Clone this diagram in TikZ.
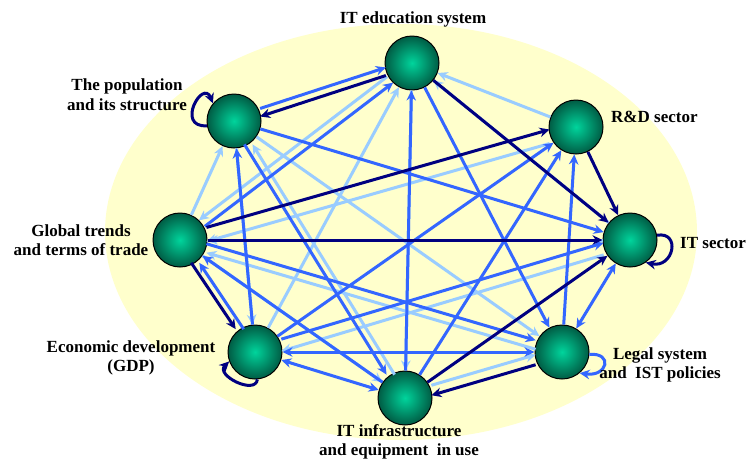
\documentclass[tikz,border=0pt]{standalone}
\usepackage{fontspec}
\setmainfont{Liberation Serif}
\usetikzlibrary{arrows.meta}

\definecolor{navyarc}{HTML}{000080}
\definecolor{midarc}{HTML}{3366FF}
\definecolor{lightarc}{HTML}{99CCFF}
\definecolor{fieldbg}{HTML}{FFFFCC}
\definecolor{ballin}{HTML}{00D49C}
\definecolor{ballout}{HTML}{005C44}

\tikzset{
  factor/.style={circle, draw=black, line width=1pt, minimum size=54pt, inner sep=0pt,
    inner color=ballin, outer color=ballout},
  lbl/.style={font=\fontsize{17}{19.5}\selectfont\bfseries, align=center, inner sep=0pt},
  link/.style={line width=3pt, ->},
  nv/.style={link, draw=navyarc},
  md/.style={link, draw=midarc},
  lb/.style={link, draw=lightarc},
  sh/.style={transform canvas={shift={#1}}},
}

\begin{document}
\begin{tikzpicture}[x=1pt,y=-1pt,>={Stealth[length=10pt,width=9.5pt]}]
  \useasboundingbox (0,0) rectangle (746,461);
  \fill[fieldbg] (401,232) ellipse (296 and 208);

  % the eight factors
  \node[factor] (edu) at (412,63) {};
  \node[factor] (rnd) at (576,127) {};
  \node[factor] (itsec) at (630,240) {};
  \node[factor] (legal) at (562,352) {};
  \node[factor] (infra) at (405,398) {};
  \node[factor] (econ) at (255,352) {};
  \node[factor] (glob) at (180,240) {};
  \node[factor] (popu) at (234,121) {};

  % weak links
  \draw[lb] (rnd) -- (edu);
  \draw[lb] (itsec) -- (edu);
  \draw[lb,sh={(-3,-3)}] (edu) -- (glob);
  \draw[lb] (glob) -- (popu);
  \draw[lb,sh={(4,0)}] (infra) -- (popu);
  \draw[lb] (popu) -- (econ);
  \draw[lb,sh={(0,7)}] (itsec) -- (econ);
  \draw[lb] (edu) -- (infra);
  \draw[lb] (glob) -- (infra);
  \draw[lb,sh={(0,-5)}] (infra) -- (legal);
  \draw[lb] (popu) -- (legal);
  \draw[lb,sh={(0,5)}] (legal) -- (glob);
  \draw[lb,sh={(0,9)}] (rnd) -- (glob);
  \draw[lb] (itsec) -- (glob);
  \draw[lb] (econ) -- (edu);

  % medium links
  \draw[md,sh={(0,-4)}] (popu) -- (edu);
  \draw[md] (popu) -- (itsec);
  \draw[md,sh={(-4,0)}] (popu) -- (infra);
  \draw[md] (econ) -- (popu);
  \draw[md,sh={(3,3)}] (glob) -- (edu);
  \draw[md] (infra) -- (edu);
  \draw[md] (econ) -- (rnd);
  \draw[md] (infra) -- (rnd);
  \draw[md] (legal) -- (rnd);
  \draw[md,<->] (itsec) -- (legal);
  \draw[md,<->] (econ) -- (infra);
  \draw[md,<->] (econ) -- (legal);
  \draw[md,sh={(4,0)}] (econ) -- (glob);
  \draw[md] (infra) -- (glob);
  \draw[md,sh={(0,-4)}] (glob) -- (legal);
  \draw[md] (edu) -- (legal);
  \draw[md,sh={(0,-5)}] (econ) -- (itsec);

  % strong links
  \draw[nv,sh={(0,4)}] (edu) -- (popu);
  \draw[nv] (edu) -- (itsec);
  \draw[nv] (rnd) -- (itsec);
  \draw[nv,sh={(0,-5)}] (glob) -- (rnd);
  \draw[nv] (glob) -- (itsec);
  \draw[nv,sh={(-4,0)}] (glob) -- (econ);
  \draw[nv,sh={(0,5)}] (legal) -- (infra);
  \draw[nv] (infra) -- (itsec);

  % self loops
  \draw[nv] (popu.190) .. controls +(-32,2) and +(-10,-25) .. (popu.140);
  \draw[nv] (econ.275) .. controls +(-2,16) and +(-14,14) .. (econ.200);
  \draw[nv] (itsec.10) .. controls +(24,-4) and +(28,6) .. (itsec.305);
  \draw[md] (legal.355) .. controls +(24,-2) and +(28,4) .. (legal.310);

  % labels
  \node[lbl, anchor=north] (edulbl) at (413,12) {IT education system};
  \node[lbl, anchor=north] (populbl) at (127,79) {The population\\and its structure};
  \node[lbl, anchor=base west] (rndlbl) at (611,122) {R\&D sector};
  \node[lbl, anchor=north] (globlbl) at (81,224) {Global trends\\and terms of trade};
  \node[lbl, anchor=base west] (itseclbl) at (680,248) {IT sector};
  \node[lbl, anchor=north] (econlbl) at (131,340) {Economic development\\(GDP)};
  \node[lbl, anchor=north] (legallbl) at (660,347) {Legal system\\and\ \ IST policies};
  \node[lbl, anchor=north] (infralbl) at (399,424) {IT infrastructure\\and equipment\ \ in use};
\end{tikzpicture}
\end{document}
